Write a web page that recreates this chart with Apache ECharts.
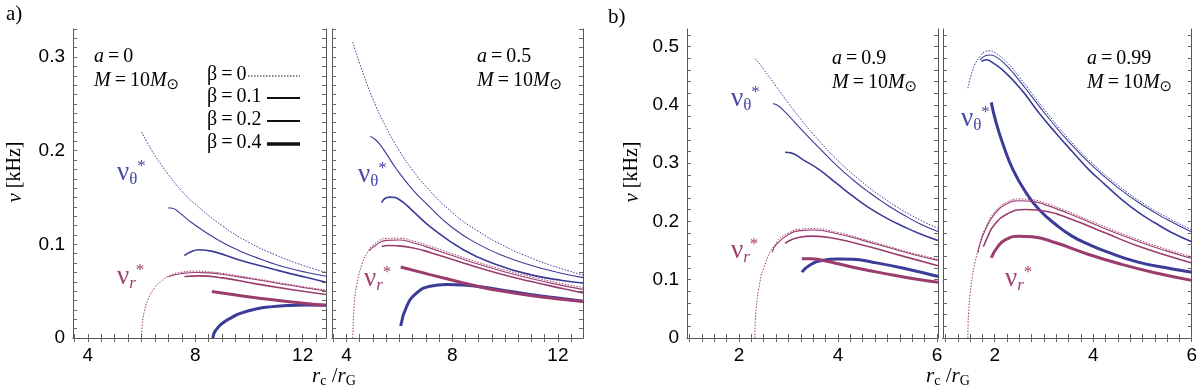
<!DOCTYPE html>
<html>
<head>
<meta charset="utf-8">
<script src="https://cdn.jsdelivr.net/npm/echarts@6/dist/echarts.min.js"></script>
<style>
html, body { margin: 0; padding: 0; background: #fff; }
#main { width: 1200px; height: 391px; }
</style>
</head>
<body>
<div id="main"></div>
<script>
// tick labels
var xTicksA = [4, 8, 12];
var xTicksB = [2, 4, 6];
var yTicksA = [0, 0.1, 0.2, 0.3];
var yTicksB = [0, 0.1, 0.2, 0.3, 0.4, 0.5];

// a = 0   (r_c/r_G, nu [kHz])
var a0_th_b0 = [[6.0,0.220],[6.25,0.207],[6.5,0.195],[7.0,0.1745],[7.5,0.157],[8.0,0.143],[9.0,0.120],[10.0,0.102],[11.0,0.0886],[12.0,0.0777],[12.87,0.070]];
var a0_th_b1 = [[7.0,0.139],[7.16,0.1385],[7.41,0.1339],[7.78,0.1251],[8.4,0.1127],[9.02,0.102],[9.64,0.0932],[10.26,0.0861],[10.88,0.0797],[11.5,0.0744],[12.12,0.0702],[12.87,0.066]];
var a0_th_b2 = [[7.6,0.088],[7.78,0.0914],[8.15,0.0943],[8.65,0.0925],[9.64,0.0833],[10.88,0.0737],[11.5,0.069],[12.12,0.0649],[12.87,0.0595]];
var a0_th_b4 = [[8.66,0],[8.7,0.005],[8.8,0.0095],[9.0,0.0155],[9.4,0.0225],[9.65,0.026],[10.26,0.031],[10.88,0.0335],[11.5,0.0348],[12.12,0.0352],[12.87,0.035]];
var a0_r_b0 = [[6.0,0],[6.03,0.015],[6.1,0.0275],[6.25,0.0414],[6.5,0.0541],[6.75,0.061],[7.0,0.066],[7.5,0.0703],[8.0,0.0714],[8.5,0.0707],[9.0,0.0691],[10.0,0.0646],[11.0,0.0597],[12.0,0.0549],[12.87,0.0512]];
var a0_r_b1 = [[7.0,0.0655],[7.5,0.0688],[8.0,0.070],[8.5,0.0695],[9.0,0.068],[10.0,0.0636],[11.0,0.0588],[12.0,0.054],[12.87,0.0502]];
var a0_r_b2 = [[7.6,0.0656],[8.15,0.0663],[9.02,0.0642],[10.26,0.0578],[11.5,0.0521],[12.87,0.0465]];
var a0_r_b4 = [[8.62,0.0496],[9.64,0.0454],[10.88,0.0408],[12.12,0.0369],[12.87,0.0351]];

// a = 0.5
var a5_th_b0 = [[4.233,0.316],[4.35,0.3056],[4.5,0.293],[5.0,0.255],[5.5,0.225],[6.0,0.200],[6.5,0.1793],[7.0,0.162],[8.0,0.134],[9.0,0.1137],[10.0,0.0978],[11.0,0.0853],[12.0,0.0752],[12.95,0.0673]];
var a5_th_b1 = [[4.89,0.2150],[5.0,0.2140],[5.27,0.2065],[5.9,0.1800],[6.5,0.1585],[7.04,0.1430],[8.0,0.1180],[9.0,0.1000],[10.0,0.0870],[11.0,0.0775],[12.0,0.0700],[12.95,0.0645]];
var a5_th_b2 = [[5.33,0.1446],[5.45,0.149],[5.64,0.1505],[6.02,0.1474],[6.53,0.135],[7.16,0.119],[8.42,0.0943],[9.69,0.0783],[10.95,0.0677],[12.22,0.0612],[12.95,0.0588]];
var a5_th_b4 = [[6.05,0.0128],[6.28,0.034],[6.66,0.0482],[7.16,0.0553],[7.79,0.0571],[8.42,0.0567],[9.06,0.0548],[9.69,0.0521],[10.95,0.0464],[12.22,0.0418],[12.95,0.0393]];
var a5_r_b0 = [[4.233,0],[4.3,0.0387],[4.4,0.0586],[4.6,0.080],[4.8,0.0917],[5.0,0.0989],[5.5,0.1063],[6.0,0.1066],[6.5,0.1038],[7.0,0.0996],[8.0,0.090],[9.0,0.0807],[10.0,0.0725],[11.0,0.0653],[12.0,0.059],[12.95,0.0539]];
var a5_r_b1 = [[4.86,0.093],[5.0,0.097],[5.5,0.1043],[6.0,0.1046],[6.5,0.1018],[7.0,0.0976],[8.0,0.088],[9.0,0.0787],[10.0,0.0705],[11.0,0.0633],[12.0,0.057],[12.95,0.0519]];
var a5_r_b2 = [[5.33,0.0978],[5.59,0.0988],[5.9,0.0985],[6.53,0.0962],[7.16,0.0914],[8.42,0.0801],[9.69,0.0695],[10.95,0.0606],[12.22,0.0525],[12.95,0.048]];
var a5_r_b4 = [[6.05,0.0758],[7.16,0.0677],[8.42,0.0588],[9.06,0.0545],[9.69,0.051],[10.95,0.0454],[12.22,0.0411],[12.95,0.039]];

// a = 0.9
var a9_th_b0 = [[2.321,0.479],[2.4,0.472],[2.5,0.4605],[2.75,0.4317],[3.0,0.4028],[3.25,0.3752],[3.5,0.3495],[4.0,0.3042],[4.5,0.2667],[5.0,0.2355],[5.5,0.2096],[6.02,0.1883]];
var a9_th_b1 = [[2.69,0.402],[2.8,0.398],[2.95,0.386],[3.29,0.355],[3.62,0.326],[3.96,0.297],[4.3,0.2715],[4.63,0.2495],[4.97,0.2295],[5.31,0.212],[5.64,0.1965],[6.02,0.1825]];
var a9_th_b2 = [[2.93,0.3186],[3.05,0.3175],[3.29,0.306],[3.62,0.2889],[3.96,0.266],[4.3,0.2432],[4.63,0.2232],[4.97,0.2061],[5.31,0.1918],[5.64,0.1793],[6.02,0.1672]];
var a9_th_b4 = [[3.27,0.113],[3.45,0.126],[3.7,0.1335],[4.0,0.1355],[4.3,0.135],[4.7,0.130],[5.3,0.120],[6.02,0.1055]];
var a9_r_b0 = [[2.321,0],[2.33,0.030],[2.35,0.0528],[2.4,0.0846],[2.5,0.1203],[2.75,0.163],[3.0,0.1803],[3.25,0.1868],[3.5,0.1876],[4.0,0.1809],[4.5,0.1697],[5.0,0.1575],[5.5,0.1457],[6.02,0.1352]];
var a9_r_b1 = [[2.67,0.147],[2.75,0.160],[3.0,0.1775],[3.25,0.1842],[3.5,0.1852],[4.0,0.1785],[4.5,0.1675],[5.0,0.1555],[5.5,0.1437],[6.02,0.1332]];
var a9_r_b2 = [[2.93,0.1622],[3.05,0.168],[3.2,0.1725],[3.49,0.1747],[3.96,0.1701],[4.63,0.1565],[5.31,0.1404],[6.02,0.124]];
var a9_r_b4 = [[3.27,0.136],[3.45,0.136],[3.7,0.133],[4.0,0.1275],[4.3,0.1215],[4.98,0.110],[5.5,0.102],[6.02,0.0955]];

// a = 0.99
var a99_th_b0 = [[1.4545,0.4286],[1.5,0.4445],[1.55,0.4589],[1.6,0.4699],[1.7,0.4828],[1.8,0.4911],[1.9,0.4925],[2.0,0.4897],[2.25,0.4727],[2.5,0.4476],[2.75,0.4201],[3.0,0.3926],[3.5,0.3417],[4.0,0.2984],[4.5,0.2621],[5.0,0.2319],[5.5,0.2068],[6.0,0.1857]];
var a99_th_b1 = [[1.7,0.4772],[1.8,0.4838],[1.9,0.4855],[2.0,0.4835],[2.25,0.4665],[2.5,0.4415],[2.75,0.4145],[3.0,0.3872],[3.5,0.3367],[4.0,0.2938],[4.5,0.2579],[5.0,0.228],[5.5,0.2031],[6.0,0.1818]];
var a99_th_b2 = [[1.73,0.4744],[1.83,0.4772],[1.97,0.4715],[2.23,0.4544],[2.57,0.423],[2.9,0.3859],[3.24,0.3517],[3.57,0.3202],[3.91,0.2889],[4.24,0.2632],[4.58,0.2375],[4.91,0.2158],[5.25,0.1976],[5.58,0.1815],[6.0,0.165]];
var a99_th_b4 = [[1.93,0.4042],[2.03,0.3688],[2.17,0.3317],[2.37,0.2889],[2.64,0.2489],[2.9,0.2204],[3.24,0.1947],[3.57,0.1747],[3.91,0.1604],[4.24,0.149],[4.91,0.1301],[5.58,0.1188],[6.0,0.1128]];
var a99_r_b0 = [[1.4545,0],[1.46,0.026],[1.47,0.0436],[1.5,0.075],[1.55,0.1074],[1.6,0.1296],[1.7,0.1633],[1.8,0.1867],[2.0,0.2158],[2.25,0.2332],[2.5,0.2385],[2.75,0.2374],[3.0,0.2322],[3.5,0.2166],[4.0,0.1989],[4.5,0.1818],[5.0,0.1659],[5.5,0.1519],[6.0,0.1393]];
var a99_r_b1 = [[1.66,0.146],[1.7,0.1605],[1.8,0.1837],[2.0,0.2128],[2.25,0.2302],[2.5,0.2355],[2.75,0.2344],[3.0,0.2292],[3.5,0.2136],[4.0,0.1959],[4.5,0.1788],[5.0,0.1629],[5.5,0.149],[6.0,0.1365]];
var a99_r_b2 = [[1.77,0.1565],[1.87,0.176],[1.97,0.1918],[2.23,0.2118],[2.64,0.2204],[3.04,0.2175],[3.57,0.2033],[4.24,0.1804],[4.91,0.1576],[5.58,0.1393],[6.0,0.1285]];
var a99_r_b4 = [[1.93,0.1376],[2.07,0.1576],[2.23,0.169],[2.49,0.1747],[2.76,0.1736],[3.24,0.1633],[3.91,0.1433],[4.58,0.1262],[5.25,0.1119],[6.0,0.0988]];

var spins = ['0', '0.5', '0.9', '0.99'];
var betas = ['0', '0.1', '0.2', '0.4'];

var thColor = '#3b3b98';
var rColor = '#9b3c6e';
var serif = '"Liberation Serif", "DejaVu Serif", serif';
var sans = '"Liberation Sans", Arial, sans-serif';

function steps(a, b, s) {
  var out = [];
  for (var v = Math.ceil(a / s - 1e-9) * s; v <= b + 1e-9; v += s) out.push(Math.round(v * 1000) / 1000);
  return out;
}

var panels = [
  { grid: { left: 73, top: 29, width: 253, height: 309 }, x: [3.45, 12.87], y: [0, 0.33], xMajor: xTicksA, xStep: 0.5, yMajor: yTicksA, yStep: 0.01, yLabels: true },
  { grid: { left: 332, top: 29, width: 251, height: 309 }, x: [3.45, 12.95], y: [0, 0.33], xMajor: xTicksA, xStep: 0.5, yMajor: yTicksA, yStep: 0.01, yLabels: false },
  { grid: { left: 687, top: 29, width: 251, height: 309 }, x: [0.95, 6.02], y: [0, 0.53], xMajor: xTicksB, xStep: 0.25, yMajor: yTicksB, yStep: 0.02, yLabels: true },
  { grid: { left: 943, top: 29, width: 250, height: 309 }, x: [0.95, 6.0], y: [0, 0.53], xMajor: xTicksB, xStep: 0.25, yMajor: yTicksB, yStep: 0.02, yLabels: false }
];

var curves = [
  [0, a0_th_b0, 'th', 0], [0, a0_th_b1, 'th', 1], [0, a0_th_b2, 'th', 2], [0, a0_th_b4, 'th', 3],
  [0, a0_r_b0, 'r', 0], [0, a0_r_b1, 'r', 1], [0, a0_r_b2, 'r', 2], [0, a0_r_b4, 'r', 3],
  [1, a5_th_b0, 'th', 0], [1, a5_th_b1, 'th', 1], [1, a5_th_b2, 'th', 2], [1, a5_th_b4, 'th', 3],
  [1, a5_r_b0, 'r', 0], [1, a5_r_b1, 'r', 1], [1, a5_r_b2, 'r', 2], [1, a5_r_b4, 'r', 3],
  [2, a9_th_b0, 'th', 0], [2, a9_th_b1, 'th', 1], [2, a9_th_b2, 'th', 2], [2, a9_th_b4, 'th', 3],
  [2, a9_r_b0, 'r', 0], [2, a9_r_b1, 'r', 1], [2, a9_r_b2, 'r', 2], [2, a9_r_b4, 'r', 3],
  [3, a99_th_b0, 'th', 0], [3, a99_th_b1, 'th', 1], [3, a99_th_b2, 'th', 2], [3, a99_th_b4, 'th', 3],
  [3, a99_r_b0, 'r', 0], [3, a99_r_b1, 'r', 1], [3, a99_r_b2, 'r', 2], [3, a99_r_b4, 'r', 3]
];
var widths = [1, 1.1, 1.6, 3];

var grids = [], xAxes = [], yAxes = [], series = [];
panels.forEach(function (p, i) {
  grids.push(p.grid);
  var axLine = { show: true, lineStyle: { color: '#555', width: 1 } };
  var xTick = { show: true, inside: true, length: 4, customValues: steps(p.x[0], p.x[1], p.xStep), lineStyle: { color: '#666' } };
  var yTick = { show: true, inside: true, length: 4, customValues: steps(p.y[0], p.y[1], p.yStep), lineStyle: { color: '#666' } };
  xAxes.push({ gridIndex: i, type: 'value', position: 'bottom', min: p.x[0], max: p.x[1],
    axisLine: axLine, axisTick: xTick, splitLine: { show: false },
    axisLabel: { customValues: p.xMajor, color: '#000', fontSize: 19, fontFamily: sans, margin: 8 } });
  xAxes.push({ gridIndex: i, type: 'value', position: 'top', min: p.x[0], max: p.x[1],
    axisLine: axLine, axisTick: xTick, splitLine: { show: false }, axisLabel: { show: false } });
  yAxes.push({ gridIndex: i, type: 'value', position: 'left', min: p.y[0], max: p.y[1],
    axisLine: axLine, axisTick: yTick, splitLine: { show: false },
    axisLabel: { show: p.yLabels, customValues: p.yMajor, color: '#000', fontSize: 19, fontFamily: sans, margin: 8 } });
  yAxes.push({ gridIndex: i, type: 'value', position: 'right', min: p.y[0], max: p.y[1],
    axisLine: axLine, axisTick: yTick, splitLine: { show: false }, axisLabel: { show: false } });
});

curves.forEach(function (c) {
  var b = c[3];
  series.push({
    type: 'line',
    name: (c[2] === 'th' ? 'ν_θ* ' : 'ν_r* ') + 'a=' + spins[c[0]] + ' β=' + betas[b],
    xAxisIndex: 2 * c[0],
    yAxisIndex: 2 * c[0],
    data: c[1],
    symbol: 'none',
    smooth: 0.5,
    silent: true,
    z: b === 0 ? 5 : 3,
    lineStyle: {
      color: c[2] === 'th' ? thColor : rColor,
      width: widths[b],
      type: b === 0 ? [1.5, 1.5] : 'solid'
    }
  });
});

function nuLabel(sub, color, x, y) {
  return {
    type: 'text', left: x, top: y, silent: true,
    style: {
      text: '{n|ν}{s|' + sub + '}{p|*}',
      fill: color,
      rich: {
        n: { fontFamily: serif, fontSize: 27, fill: color, lineHeight: 30, verticalAlign: 'middle' },
        s: { fontFamily: serif, fontSize: 17, fill: color, fontStyle: sub === 'r' ? 'italic' : 'normal', verticalAlign: 'bottom', lineHeight: 30 },
        p: { fontFamily: serif, fontSize: 17, fill: color, verticalAlign: 'top', lineHeight: 30 }
      }
    }
  };
}

function spinLabel(a, x, y) {
  return {
    type: 'text', left: x, top: y, silent: true,
    style: {
      text: '{i|a}{n|\u2009=\u2009' + a + '}\n{i|M}{n|\u2009=\u200910}{i|M}{o|\u2299}',
      fill: '#000',
      rich: {
        i: { fontFamily: serif, fontSize: 20, fontStyle: 'italic', lineHeight: 24 },
        n: { fontFamily: serif, fontSize: 20, lineHeight: 24 },
        o: { fontFamily: '"DejaVu Sans", sans-serif', fontSize: 15, lineHeight: 24, verticalAlign: 'bottom' }
      }
    }
  };
}

function axisTitleX(x) {
  return {
    type: 'text', left: x, top: 366, silent: true,
    style: {
      text: '{i|r}{s|c}{n| /}{i|r}{s|G}',
      fill: '#000',
      rich: {
        i: { fontFamily: serif, fontSize: 21, fontStyle: 'italic', lineHeight: 24 },
        n: { fontFamily: serif, fontSize: 21, lineHeight: 24 },
        s: { fontFamily: serif, fontSize: 14, lineHeight: 24, verticalAlign: 'bottom' }
      }
    }
  };
}

function axisTitleY(x, y) {
  return {
    type: 'text', x: x, y: y, rotation: Math.PI / 2, silent: true,
    style: {
      text: '{i|ν} [kHz]',
      fill: '#000',
      align: 'center',
      verticalAlign: 'middle',
      font: '20px ' + serif,
      rich: { i: { fontFamily: serif, fontSize: 21, fontStyle: 'italic' } }
    }
  };
}

function legendRow(label, y, x1, width, dash) {
  return [
    { type: 'text', left: 207, top: y - 11, silent: true,
      style: { text: label, fill: '#000', font: '20px ' + serif } },
    { type: 'line', silent: true,
      shape: { x1: x1, y1: y, x2: 300, y2: y },
      style: { stroke: '#111', lineWidth: width, lineDash: dash } }
  ];
}

var graphics = [
  { type: 'text', left: 6, top: 4, silent: true, style: { text: 'a)', fill: '#000', font: '21px ' + serif } },
  { type: 'text', left: 608, top: 7, silent: true, style: { text: 'b)', fill: '#000', font: '21px ' + serif } },
  spinLabel('0', 94, 47),
  spinLabel('0.5', 477, 47),
  spinLabel('0.9', 832, 49),
  spinLabel('0.99', 1087, 49),
  nuLabel('θ', '#4848a8', 117, 158),
  nuLabel('r', '#a0416f', 117, 262),
  nuLabel('θ', '#4848a8', 358, 160),
  nuLabel('r', '#a0416f', 364, 264),
  nuLabel('θ', '#4848a8', 731, 84),
  nuLabel('r', '#a0416f', 731, 236),
  nuLabel('θ', '#4848a8', 961, 104),
  nuLabel('r', '#a0416f', 1005, 264),
  axisTitleX(312),
  axisTitleX(926),
  axisTitleY(15, 172),
  axisTitleY(632, 172)
];
graphics = graphics
  .concat(legendRow('β\u2009=\u20090', 76, 248, 1, [1.5, 1.5]))
  .concat(legendRow('β\u2009=\u20090.1', 98, 267, 1.8, null))
  .concat(legendRow('β\u2009=\u20090.2', 121, 267, 2.2, null))
  .concat(legendRow('β\u2009=\u20090.4', 144, 267, 3.5, null));

var myChart = echarts.init(document.getElementById('main'));
var option = {
  backgroundColor: '#fff',
  animation: false,
  grid: grids,
  xAxis: xAxes,
  yAxis: yAxes,
  series: series,
  graphic: graphics
};
myChart.setOption(option);
</script>
</body>
</html>
